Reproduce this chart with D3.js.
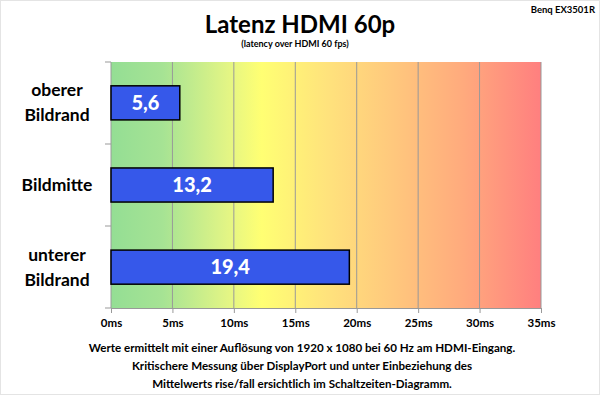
<!DOCTYPE html>
<html lang="de">
  <head>
    <meta charset="utf-8">
    <title>Latenz HDMI 60p</title>
    <script src="https://d3js.org/d3.v7.min.js"></script>
    <style>
      body { margin: 0; background: #fff; }
      text { font-family: Lato, "Open Sans", sans-serif; font-weight: bold; }
    </style>
  </head>
  <body>
    <script>
      var categories = [["oberer", "Bildrand"], ["Bildmitte"], ["unterer", "Bildrand"]]
      var values = [5.6, 13.2, 19.4]
      var valueLabels = ["5,6", "13,2", "19,4"]
      var ticks = [0, 5, 10, 15, 20, 25, 30, 35]
      var footer = [
        "Werte ermittelt mit einer Auflösung von 1920 x 1080 bei 60 Hz am HDMI-Eingang.",
        "Kritischere Messung über DisplayPort und unter Einbeziehung des",
        "Mittelwerts rise/fall ersichtlich im Schaltzeiten-Diagramm."
      ]

      var width = 600, height = 395
      var margin = {top: 62, right: 59, bottom: 87, left: 111}

      var svg = d3.select("body").append("svg")
        .attr("width", width)
        .attr("height", height)

      svg.append("rect")
        .attr("x", 0.5).attr("y", 0.5)
        .attr("width", width - 1).attr("height", height - 1)
        .attr("fill", "#fff").attr("stroke", "#e4e4e4")

      var x = d3.scaleLinear()
        .domain([0, 35])
        .range([margin.left, width - margin.right])

      var y = d3.scaleBand()
        .domain(d3.range(categories.length))
        .range([margin.top, height - margin.bottom])
        .paddingInner(0.585)
        .paddingOuter(0.29)

      // background gradient green -> yellow -> red
      var grad = svg.append("defs").append("linearGradient")
        .attr("id", "bg").attr("x1", "0%").attr("x2", "100%")
      var stops = [[0, "#94de94"], [0.12, "#a6e394"], [0.27, "#e2f585"], [0.35, "#ffff73"],
                   [0.5, "#ffe37c"], [0.65, "#ffc97d"], [0.82, "#ffaa7d"], [1, "#ff7f7f"]]
      grad.selectAll("stop").data(stops).enter().append("stop")
        .attr("offset", function(d) { return d[0] })
        .attr("stop-color", function(d) { return d[1] })

      svg.append("rect")
        .attr("x", x(0)).attr("y", margin.top)
        .attr("width", x(35) - x(0))
        .attr("height", height - margin.bottom - margin.top)
        .attr("fill", "url(#bg)")

      // grid lines
      svg.selectAll(".grid")
        .data(ticks.slice(1))
        .enter().append("line")
          .attr("x1", function(d) { return x(d) })
          .attr("x2", function(d) { return x(d) })
          .attr("y1", margin.top)
          .attr("y2", height - margin.bottom)
          .attr("stroke", "#999")
          .attr("stroke-width", 1)

      // x axis
      var xAxis = svg.append("g")
        .attr("transform", "translate(0," + (height - margin.bottom) + ")")
        .call(d3.axisBottom(x).tickValues(ticks).tickSize(5).tickPadding(6)
          .tickFormat(function(d) { return d + "ms" }))
      xAxis.select(".domain").attr("stroke", "#999")
      xAxis.selectAll(".tick line").attr("stroke", "#999")
      xAxis.selectAll("text").attr("fill", "#000").style("font-size", "11.5px")
        .style("font-family", "Lato, sans-serif").style("font-weight", "bold")

      // y axis line and band ticks
      svg.append("line")
        .attr("x1", x(0)).attr("x2", x(0))
        .attr("y1", margin.top).attr("y2", height - margin.bottom)
        .attr("stroke", "#999")
      var bounds = d3.range(categories.length + 1).map(function(i) {
        return margin.top + (height - margin.bottom - margin.top) * i / categories.length
      })
      svg.selectAll(".ytick").data(bounds).enter().append("line")
        .attr("x1", x(0) - 6).attr("x2", x(0))
        .attr("y1", function(d) { return d }).attr("y2", function(d) { return d })
        .attr("stroke", "#999")

      // bars
      svg.selectAll(".bar")
        .data(values)
        .enter().append("rect")
          .attr("x", x(0))
          .attr("y", function(d, i) { return y(i) })
          .attr("width", function(d) { return x(d) - x(0) })
          .attr("height", y.bandwidth())
          .attr("fill", "#3658ea")
          .attr("stroke", "#000")
          .attr("stroke-width", 1.5)

      svg.selectAll(".val")
        .data(values)
        .enter().append("text")
          .attr("x", function(d) { return (x(0) + x(d)) / 2 })
          .attr("y", function(d, i) { return y(i) + y.bandwidth() / 2 + 7 })
          .attr("text-anchor", "middle")
          .attr("fill", "#fff")
          .style("font-size", "20px")
          .style("font-weight", 900)
          .text(function(d, i) { return valueLabels[i] })

      // category labels
      categories.forEach(function(lines, i) {
        var cy = y(i) + y.bandwidth() / 2
        var t = svg.append("text")
          .attr("text-anchor", "middle")
          .style("font-size", "17.5px")
        lines.forEach(function(l, j) {
          t.append("tspan")
            .attr("x", 57)
            .attr("y", cy + 6 + (j - (lines.length - 1) / 2) * 25)
            .text(l)
        })
      })

      // titles
      svg.append("text")
        .attr("x", 300).attr("y", 33)
        .attr("text-anchor", "middle")
        .style("font-size", "24px")
        .text("Latenz HDMI 60p")
      svg.append("text")
        .attr("x", 295).attr("y", 47)
        .attr("text-anchor", "middle")
        .style("font-size", "9px")
        .text("(latency over HDMI 60  fps)")
      svg.append("text")
        .attr("x", 595).attr("y", 13)
        .attr("text-anchor", "end")
        .style("font-size", "9.5px")
        .text("Benq EX3501R")

      svg.selectAll(".foot")
        .data(footer)
        .enter().append("text")
          .attr("x", 302)
          .attr("y", function(d, i) { return 352 + i * 18 })
          .attr("text-anchor", "middle")
          .style("font-size", "11.6px")
          .text(function(d) { return d })
    </script>
  </body>
</html>
